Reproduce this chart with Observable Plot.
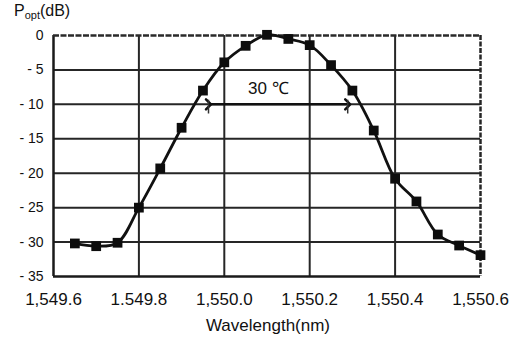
<!DOCTYPE html>
<html><head><meta charset="utf-8">
<script src="https://cdn.jsdelivr.net/npm/d3@7"></script>
<script src="https://cdn.jsdelivr.net/npm/@observablehq/plot@0.6"></script>
<style>
body{margin:0;background:#fff;}
#wrap{position:relative;width:510px;height:342px;font-family:"Liberation Sans",Arial,sans-serif;color:#111;}
#ylab{position:absolute;left:14px;top:2px;font-size:16px;}
#ylab sub{font-size:11px;vertical-align:-3px;}
#xlab{position:absolute;left:0;width:510px;top:316px;text-align:center;font-size:17px;padding-left:26px;box-sizing:border-box;}
</style></head><body>
<div id="wrap"><div id="chart"></div><div id="ylab">P<sub>opt</sub>(dB)</div><div id="xlab">Wavelength(nm)</div></div>
<script>
const wavelength = [1549.65,1549.70,1549.75,1549.80,1549.85,1549.90,1549.95,1550.00,1550.05,1550.10,1550.15,1550.20,1550.25,1550.30,1550.35,1550.40,1550.45,1550.50,1550.55,1550.60];
const power = [-30.2,-30.6,-30.1,-25.0,-19.3,-13.4,-8.0,-3.9,-1.5,0.1,-0.5,-1.4,-4.3,-8.0,-13.8,-20.8,-24.1,-28.9,-30.5,-31.9];
const xTicks = [1549.6,1549.8,1550.0,1550.2,1550.4,1550.6];
const xTickLabels = ["1,549.6","1.549.8","1,550.0","1,550.2","1,550.4","1,550.6"];
const yTicks = [0,-5,-10,-15,-20,-25,-30,-35];
const yTickLabels = ["0","- 5","- 10","- 15","- 20","- 25","- 30","- 35"];
const spanStart = [1549.963];
const spanEnd = [1550.289];
const spanLevel = [-10];
const noteX = [1550.103];
const noteY = [-7.7];
const noteText = ["30 \u2103"];

const data = wavelength.map((w, i) => ({w, p: power[i]}));
const span = spanStart.map((s, i) => ({x1: s, x2: spanEnd[i], y: spanLevel[i]}));
const note = noteText.map((t, i) => ({x: noteX[i], y: noteY[i], t}));
const xFmt = d => xTickLabels[xTicks.findIndex(t => Math.abs(t - d) < 1e-6)];
const yFmt = d => yTickLabels[yTicks.indexOf(d)];

const chart = Plot.plot({
  width: 510, height: 342,
  marginLeft: 53, marginRight: 30, marginTop: 35, marginBottom: 66,
  style: {fontFamily: '"Liberation Sans", Arial, sans-serif', color: "#111", background: "#fff"},
  x: {domain: [1549.6, 1550.6]},
  y: {domain: [-35, 0]},
  marks: [
    Plot.ruleY(yTicks.slice(1, -1), {stroke: "#262626", strokeWidth: 2}),
    Plot.ruleX(xTicks.slice(1, -1), {stroke: "#262626", strokeWidth: 2}),
    Plot.ruleX([xTicks[0]], {stroke: "#1a1a1a", strokeWidth: 2.5}),
    Plot.ruleX([xTicks[xTicks.length - 1]], {stroke: "#262626", strokeWidth: 2.5, strokeDasharray: "5,1.5"}),
    Plot.ruleY([yTicks[0]], {stroke: "#2a2a2a", strokeWidth: 2.5, strokeDasharray: "6,1.5"}),
    Plot.ruleY([yTicks[yTicks.length - 1]], {stroke: "#1a1a1a", strokeWidth: 2.5}),
    Plot.link(span, {x1: "x1", x2: "x2", y1: "y", y2: "y", stroke: "#111", strokeWidth: 2.5, markerStart: "arrow", markerEnd: "arrow"}),
    Plot.ruleX(span, {x: "x1", y1: d => d.y + 0.6, y2: d => d.y - 1.4, stroke: "#333", strokeWidth: 1.5}),
    Plot.ruleX(span, {x: "x2", y1: d => d.y + 0.6, y2: d => d.y - 1.4, stroke: "#333", strokeWidth: 1.5}),
    Plot.line(data, {x: "w", y: "p", curve: "catmull-rom", stroke: "#111", strokeWidth: 2.8}),
    Plot.dot(data, {x: "w", y: "p", symbol: "square", r: 5.5, fill: "#0d0d0d", stroke: "none"}),
    Plot.text(note, {x: "x", y: "y", text: "t", fontSize: 17, fill: "#111", stroke: "#fff", strokeWidth: 6, paintOrder: "stroke"}),
    Plot.axisY({ticks: yTicks, tickFormat: yFmt, tickSize: 0, tickPadding: 10, fontSize: 14, label: null}),
    Plot.axisX({ticks: xTicks, tickFormat: xFmt, tickSize: 0, tickPadding: 16, fontSize: 17, label: null})
  ]
});
document.getElementById("chart").appendChild(chart);
</script>
</body></html>
